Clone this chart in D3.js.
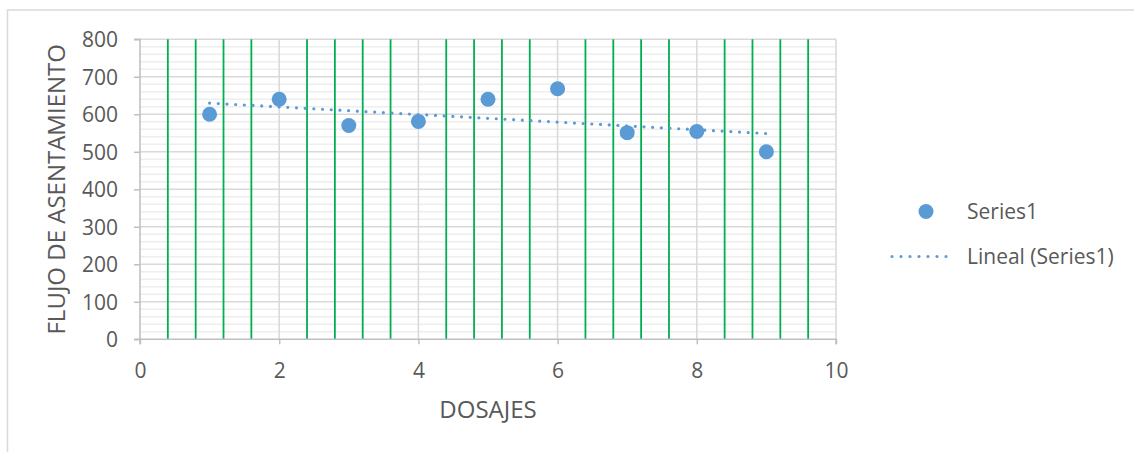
<!DOCTYPE html>
<html>
<head>
<meta charset="utf-8">
<script src="https://cdn.jsdelivr.net/npm/d3@7"></script>
<style>
  html, body { margin: 0; padding: 0; background: #fff; }
  svg text { font-family: "Open Sans", "Liberation Sans", sans-serif; fill: #595959; }
</style>
</head>
<body>
<svg id="chart" width="1134" height="452"></svg>
<script>
// Dosage number vs. settlement flow
const dosajes = [1, 2, 3, 4, 5, 6, 7, 8, 9];
const flujo = [600, 640, 570, 581, 640, 668, 551, 554, 500];
const xTicks = [0, 2, 4, 6, 8, 10];
const yTicks = [0, 100, 200, 300, 400, 500, 600, 700, 800];
const xTitle = "DOSAJES";
const yTitle = "FLUJO DE ASENTAMIENTO";
const legendLabels = ["Series1", "Lineal (Series1)"];

const blue = "#5B9BD5";
const svg = d3.select("#chart");

// outer chart frame (top and left edges)
svg.append("path")
  .attr("d", "M7.5,452 V10 H1134")
  .attr("fill", "none").attr("stroke", "#d9d9d9").attr("stroke-width", 1.5);

const x = d3.scaleLinear().domain([0, 10]).range([140, 836]);
const y = d3.scaleLinear().domain([0, 800]).range([339.3, 39.3]);

const g = svg.append("g");

// minor horizontal gridlines every 20
const minorY = d3.range(20, 800, 20).filter(v => v % 100 !== 0);
g.selectAll(".ymin").data(minorY).join("line")
  .attr("x1", x(0)).attr("x2", x(10))
  .attr("y1", d => y(d)).attr("y2", d => y(d))
  .attr("stroke", "#eeeeee").attr("stroke-width", 1.5);

// major horizontal gridlines
g.selectAll(".ymaj").data(yTicks.slice(1)).join("line")
  .attr("x1", x(0)).attr("x2", x(10))
  .attr("y1", d => y(d)).attr("y2", d => y(d))
  .attr("stroke", "#d9d9d9").attr("stroke-width", 1.5);

// major vertical gridlines
g.selectAll(".xmaj").data(xTicks.slice(1)).join("line")
  .attr("x1", d => x(d)).attr("x2", d => x(d))
  .attr("y1", y(0)).attr("y2", y(800))
  .attr("stroke", "#d9d9d9").attr("stroke-width", 1.5);

// minor vertical gridlines every 0.4 (green)
const minorX = d3.range(1, 25).map(i => i * 0.4).filter(v => Math.abs(v / 2 - Math.round(v / 2)) > 1e-6);
g.selectAll(".xmin").data(minorX).join("line")
  .attr("x1", d => x(d)).attr("x2", d => x(d))
  .attr("y1", y(0)).attr("y2", y(800))
  .attr("stroke", "#00b050").attr("stroke-width", 1.8);

// axes
const xAxis = d3.axisBottom(x).tickValues(xTicks).tickSize(5).tickPadding(19);
const yAxis = d3.axisLeft(y).tickValues(yTicks).tickSize(6).tickPadding(16);

const gx = svg.append("g").attr("transform", `translate(0,${y(0)})`).call(xAxis);
const gy = svg.append("g").attr("transform", `translate(${x(0)},0)`).call(yAxis);
[gx, gy].forEach(a => {
  a.select(".domain").attr("stroke", "#bfbfbf").attr("stroke-width", 1.5);
  a.selectAll(".tick line").attr("stroke", "#bfbfbf").attr("stroke-width", 1.5);
  a.selectAll(".tick text").style("font-size", "21px").attr("fill", "#595959")
    .style("font-family", '"Open Sans", sans-serif');
});
gy.select(".domain").attr("d", `M-6,${y(800)}H0V${y(0)}H-6`);
gx.select(".domain").attr("d", `M${x(0)},5V0H${x(10)}V5`);
gy.selectAll(".tick text").attr("dy", "0.36em");

// axis titles
svg.append("text").attr("x", x(5)).attr("y", 418)
  .attr("text-anchor", "middle").style("font-size", "24px").text(xTitle);
svg.append("text")
  .attr("transform", `translate(65,${(y(0) + y(800)) / 2}) rotate(-90)`)
  .attr("text-anchor", "middle").style("font-size", "24px").text(yTitle);

// data points
svg.append("g").selectAll("circle").data(dosajes.map((d, i) => [d, flujo[i]])).join("circle")
  .attr("cx", d => x(d[0])).attr("cy", d => y(d[1])).attr("r", 7.5)
  .attr("fill", blue);

// least-squares linear trend
const mx = d3.mean(dosajes), my = d3.mean(flujo);
const slope = d3.sum(dosajes, (d, i) => (d - mx) * (flujo[i] - my)) / d3.sum(dosajes, d => (d - mx) ** 2);
const intercept = my - slope * mx;
const xs = [d3.min(dosajes), d3.max(dosajes)];
svg.append("path")
  .datum(xs)
  .attr("d", d3.line().x(d => x(d)).y(d => y(intercept + slope * d)))
  .attr("fill", "none").attr("stroke", blue).attr("stroke-width", 3.2)
  .attr("stroke-linecap", "round").attr("stroke-dasharray", "0 8.7");

// legend
const lg = svg.append("g");
lg.append("circle").attr("cx", 926).attr("cy", 211.5).attr("r", 7.5).attr("fill", blue);
lg.append("text").attr("x", 967).attr("y", 211.5).attr("dy", "0.36em")
  .style("font-size", "21px").text(legendLabels[0]);
lg.append("line").attr("x1", 892).attr("x2", 955).attr("y1", 256.5).attr("y2", 256.5)
  .attr("stroke", blue).attr("stroke-width", 3.2)
  .attr("stroke-linecap", "round").attr("stroke-dasharray", "0 9");
lg.append("text").attr("x", 967).attr("y", 256.5).attr("dy", "0.36em")
  .style("font-size", "21px").text(legendLabels[1]);
</script>
</body>
</html>
